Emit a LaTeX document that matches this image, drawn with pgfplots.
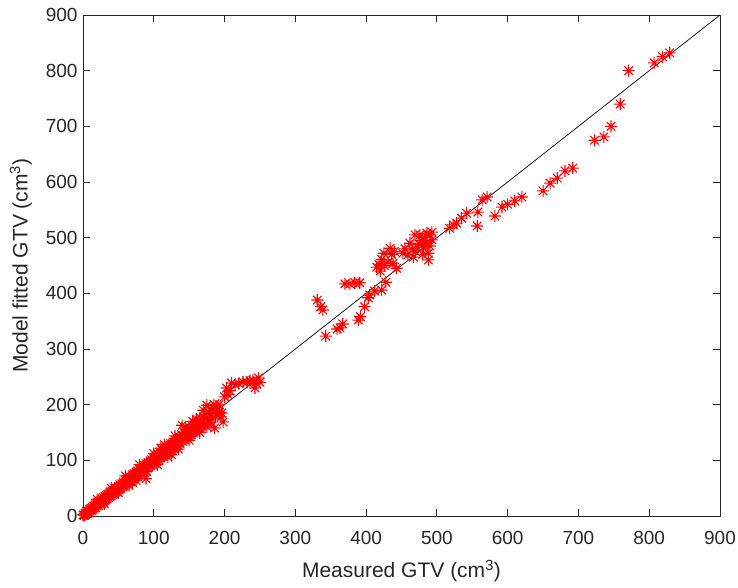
\documentclass[border=0pt]{standalone}
\usepackage{pgfplots}
\pgfplotsset{compat=1.18}
\usepackage{fontspec}
\setmainfont{Liberation Sans}
\definecolor{axgray}{RGB}{38,38,38}
\pgfdeclareplotmark{mstar}{%
 \pgfpathmoveto{\pgfqpoint{-\pgfplotmarksize}{0pt}}\pgfpathlineto{\pgfqpoint{\pgfplotmarksize}{0pt}}%
 \pgfpathmoveto{\pgfqpoint{0pt}{-\pgfplotmarksize}}\pgfpathlineto{\pgfqpoint{0pt}{\pgfplotmarksize}}%
 \pgfpathmoveto{\pgfqpoint{-0.7071\pgfplotmarksize}{-0.7071\pgfplotmarksize}}\pgfpathlineto{\pgfqpoint{0.7071\pgfplotmarksize}{0.7071\pgfplotmarksize}}%
 \pgfpathmoveto{\pgfqpoint{-0.7071\pgfplotmarksize}{0.7071\pgfplotmarksize}}\pgfpathlineto{\pgfqpoint{0.7071\pgfplotmarksize}{-0.7071\pgfplotmarksize}}%
 \pgfusepathqstroke}
\begin{document}
\begin{tikzpicture}
\useasboundingbox (-83pt,-72pt) rectangle (655pt,516pt);
\begin{axis}[
  at={(0,0)}, anchor=south west,
  scale only axis, width=637pt, height=501pt,
  xmin=0, xmax=900, ymin=0, ymax=900,
  xtick={0,100,...,900}, ytick={0,100,...,900},
  tick align=inside, major tick length=7pt,
  axis line style={axgray, line width=0.9pt},
  tick style={axgray, line width=0.9pt},
  every tick label/.append style={font=\fontsize{19}{21}\selectfont, text=axgray},
  xticklabel style={yshift=-12pt},
  yticklabel style={xshift=-2pt},
  /pgf/number format/assume math mode=true,
  xlabel={Measured GTV (cm\textsuperscript{3})},
  ylabel={Model fitted GTV (cm\textsuperscript{3})},
  label style={font=\fontsize{21}{23}\selectfont, text=axgray},
  xlabel style={yshift=-8pt},
  ylabel style={yshift=7pt},
  clip=false,
]
\addplot[black, line width=0.7pt] coordinates {(0,0) (900,900)};
\addplot[only marks, mark=mstar, mark size=6pt, red, mark options={line width=1.1pt}] coordinates {
(0,2)(1,2)(2,1)(3,5)(4,3)(5,8)(6,4)(7,9)(8,6)(9,12)(10,9)(11,14)(12,10)(13,15)(14,12)(15,18)(16,14)(17,20)(18,15)(19,22)(20,18)(21,25)(22,19)(23,24)(24,22)(25,28)(26,23)(27,31)(28,26)(29,33)(30,27)(31,35)(32,30)(33,37)(34,31)(35,39)(36,33)(37,40)(38,35)(39,43)(40,37)(41,45)(42,39)(43,46)(44,40)(45,49)(46,43)(47,50)(48,44)(50,53)(51,47)(52,56)(53,50)(55,58)(56,52)(57,61)(58,54)(60,64)(61,57)(62,66)(63,59)(65,68)(66,62)(67,70)(68,64)(70,74)(71,66)(72,76)(73,69)(75,79)(76,71)(77,81)(78,73)(80,84)(81,76)(82,85)(83,78)(85,89)(86,80)(87,91)(88,82)(89,67)(90,94)(91,86)(92,96)(93,88)(95,99)(96,90)(97,101)(98,93)(100,104)(101,95)(103,108)(104,98)(106,111)(107,101)(109,114)(110,104)(112,118)(113,107)(115,120)(116,110)(118,124)(119,113)(121,127)(122,116)(124,130)(125,118)(127,133)(128,121)(130,136)(131,124)(133,139)(134,127)(136,142)(137,130)(139,146)(140,163)(141,134)(143,150)(144,137)(146,153)(147,140)(149,156)(150,143)(152,158)(153,146)(155,161)(156,149)(158,165)(159,152)(161,168)(162,155)(164,171)(165,158)(167,175)(168,161)(170,178)(171,164)(173,182)(175,199)(176,168)(178,186)(179,172)(181,190)(182,176)(184,194)(186,158)(187,180)(189,197)(190,184)(192,200)(193,186)(196,185)(198,169)(200,214)(203,230)(205,218)(208,225)(210,239)(215,236)(220,238)(226,241)(232,240)(236,243)(240,244)(243,230)(245,238)(248,248)(250,240)
(20,30)(30,22)(40,50)(50,42)(60,72)(70,60)(80,92)(90,80)(100,112)(105,92)(110,122)(120,106)(130,144)(135,120)(145,160)(150,136)(160,174)(165,150)(170,190)(180,168)(185,200)(195,178)(65,55)(75,64)(115,128)(125,110)(155,170)(175,160)
(331,388)(336,376)(339,370)(343,323)(359,336)(363,338)(367,345)(370,417)(377,417)(384,419)(391,419)(389,352)(392,358)(398,376)(403,392)(405,397)(412,404)(422,406)(428,420)(415,447)(418,452)(420,440)(422,461)(425,472)(426,450)(434,481)(431,456)(436,470)(438,454)(440,475)(443,445)(452,472)(455,480)(459,469)(462,490)(465,478)(467,465)(469,505)(470,475)(472,483)(475,488)(476,505)(478,495)(480,470)(481,483)(483,500)(485,490)(486,508)(488,460)(488,472)(490,505)(490,485)(493,510)(493,496)
(518,517)(523,523)(528,526)(535,535)(542,544)(557,521)(558,546)(564,568)(571,573)(582,539)(592,555)(600,560)(610,566)(620,573)(650,584)(660,598)(670,607)(681,620)(692,625)(723,675)(736,681)(746,700)(759,740)(771,800)(807,814)(819,825)(829,832)
};
\end{axis}
\end{tikzpicture}
\end{document}
